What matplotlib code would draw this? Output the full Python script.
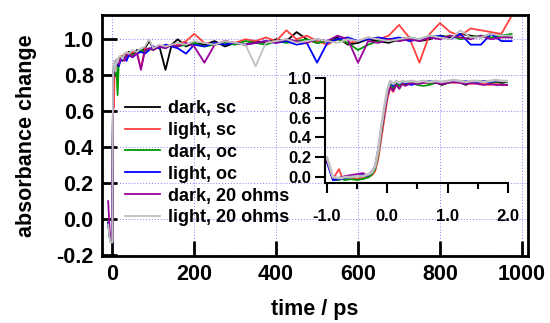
import numpy as np
import matplotlib
matplotlib.use("Agg")
import matplotlib.pyplot as plt
from matplotlib.ticker import MultipleLocator, FormatStrFormatter

plt.rcParams['font.family'] = ['Liberation Sans', 'DejaVu Sans']
plt.rcParams['font.weight'] = 'bold'

# main trace: time in ps
t_main = [-10, -5, 0, 2, 4, 6, 8, 10, 13, 16, 20, 25, 30, 35, 40, 50, 60, 70, 80, 90,
          100, 115, 130, 145, 160, 180, 200, 225, 250, 275, 300, 325, 350, 375, 400,
          425, 450, 475, 500, 525, 550, 575, 600, 625, 650, 675, 700, 725, 750, 775,
          800, 825, 850, 875, 900, 925, 950, 975]

dark_sc = [-0.02, -0.12, -0.13, 0.80, 0.84, 0.82, 0.86, 0.88, 0.85, 0.89,
           0.90, 0.88, 0.92, 0.90, 0.93, 0.92, 0.94, 0.93, 0.95, 0.99,
           0.95, 0.96, 0.83, 0.97, 1.00, 0.96, 0.98, 0.97, 0.99, 0.96,
           0.98, 0.97, 0.99, 0.98, 1.00, 0.99, 1.04, 1.00, 0.98, 0.99,
           1.01, 0.97, 0.98, 1.00, 0.99, 0.98, 1.00, 1.01, 0.99, 1.00,
           1.02, 1.01, 1.03, 1.02, 1.01, 1.03, 1.02, 1.01]
light_sc = [-0.03, -0.11, -0.12, 0.75, 0.62, 0.84, 0.86, 0.88, 0.89, 0.87,
            0.90, 0.91, 0.89, 0.92, 0.91, 0.93, 0.92, 0.84, 0.95, 0.94,
            0.96, 0.95, 0.97, 0.96, 0.97, 0.99, 1.03, 0.98, 0.97, 0.99,
            0.98, 1.00, 0.99, 1.01, 0.99, 1.05, 1.00, 1.02, 0.99, 0.97,
            1.00, 0.98, 0.99, 1.01, 1.00, 1.02, 1.08, 1.01, 0.87, 1.03,
            1.09, 1.04, 1.02, 1.06, 1.05, 1.04, 1.03, 1.13]
dark_oc = [-0.02, -0.12, -0.13, 0.78, 0.82, 0.80, 0.85, 0.87, 0.69, 0.88,
           0.89, 0.90, 0.91, 0.90, 0.92, 0.91, 0.93, 0.94, 0.93, 0.95,
           0.94, 0.96, 0.95, 0.97, 0.96, 0.97, 0.98, 0.96, 0.97, 0.98,
           0.97, 0.99, 0.98, 0.97, 0.99, 0.98, 0.99, 1.00, 0.98, 0.99,
           1.00, 0.98, 0.94, 0.97, 0.99, 1.00, 0.99, 1.01, 1.00, 1.02,
           1.01, 1.02, 1.00, 1.01, 1.02, 1.01, 1.02, 1.03]
light_oc = [-0.02, -0.12, -0.13, 0.82, 0.85, 0.83, 0.88, 0.86, 0.87, 0.85,
            0.88, 0.89, 0.90, 0.88, 0.91, 0.90, 0.92, 0.93, 0.92, 0.94,
            0.96, 0.95, 0.97, 0.96, 0.95, 0.92, 0.97, 0.96, 0.98, 0.97,
            0.98, 0.97, 0.98, 0.99, 0.98, 0.99, 0.97, 0.98, 0.87, 0.98,
            1.00, 1.01, 0.99, 1.00, 1.01, 1.00, 1.01, 0.99, 1.00, 1.01,
            1.02, 1.00, 1.03, 0.97, 0.97, 1.03, 0.99, 0.99]
dark_20 = [0.10, -0.12, -0.13, 0.76, 0.82, 0.85, 0.84, 0.87, 0.88, 0.86,
           0.89, 0.90, 0.88, 0.91, 0.92, 0.90, 0.93, 0.83, 0.94, 0.95,
           0.94, 0.96, 0.95, 0.97, 0.96, 0.98, 0.96, 0.87, 0.97, 0.99,
           0.98, 0.97, 0.98, 0.99, 0.98, 1.00, 0.99, 0.98, 1.00, 0.99,
           1.02, 1.00, 0.87, 0.99, 0.98, 1.00, 0.99, 1.00, 0.99, 1.01,
           1.00, 1.02, 1.01, 1.00, 1.02, 1.00, 1.01, 1.01]
light_20 = [-0.03, -0.13, -0.13, 0.85, 0.88, 0.86, 0.82, 0.89, 0.87, 0.90,
            0.91, 0.89, 0.92, 0.93, 0.92, 0.94, 0.93, 0.95, 0.96, 1.00,
            0.95, 0.97, 0.96, 0.97, 0.98, 0.97, 0.99, 0.98, 0.97, 0.99,
            0.98, 0.97, 0.85, 0.98, 0.99, 1.00, 0.98, 0.99, 1.00, 0.99,
            0.98, 1.00, 0.99, 1.01, 1.00, 0.99, 1.00, 1.01, 1.00, 1.02,
            1.01, 1.00, 1.05, 1.01, 1.01, 1.03, 1.02, 1.02]

# inset: early time
t_ins = [-1.0, -0.9, -0.8, -0.75, -0.7, -0.6, -0.5, -0.4, -0.35, -0.3,
         -0.25, -0.2, -0.15, -0.1, -0.05, 0.0, 0.05, 0.1, 0.15, 0.2,
         0.25, 0.3, 0.4, 0.5, 0.6, 0.7, 0.8, 0.9, 1.0, 1.1,
         1.2, 1.3, 1.4, 1.5, 1.6, 1.7, 1.8, 1.9, 2.0]

dark_sc_i = [0.17, -0.02, -0.01, 0.0, -0.01, 0.0, 0.01, 0.0, 0.01, 0.02,
             0.04, 0.09, 0.24, 0.45, 0.63, 0.81, 0.92, 0.88, 0.94, 0.90,
             0.95, 0.93, 0.96, 0.95, 0.96, 0.95, 0.96, 0.93, 0.95, 0.97,
             0.96, 0.93, 0.96, 0.95, 0.96, 0.95, 0.96, 0.95, 0.96]
light_sc_i = [0.16, -0.02, 0.08, 0.0, -0.01, -0.01, -0.02, -0.01, 0.0, 0.01,
              0.02, 0.06, 0.18, 0.38, 0.58, 0.78, 0.90, 0.86, 0.94, 0.91,
              0.95, 0.96, 0.94, 0.96, 0.95, 0.96, 0.95, 0.96, 0.97, 0.95,
              0.96, 0.95, 0.94, 0.95, 0.94, 0.93, 0.94, 0.93, 0.93]
dark_oc_i = [0.17, -0.03, -0.03, -0.02, -0.03, -0.02, -0.03, -0.02, -0.01, 0.0,
             0.03, 0.08, 0.22, 0.44, 0.64, 0.82, 0.93, 0.90, 0.95, 0.92,
             0.96, 0.94, 0.95, 0.93, 0.92, 0.93, 0.95, 0.96, 0.95, 0.96,
             0.97, 0.96, 0.95, 0.96, 0.97, 0.96, 0.96, 0.97, 0.96]
light_oc_i = [0.15, -0.03, -0.02, -0.02, -0.01, 0.0, 0.02, 0.03, 0.01, 0.02,
              0.05, 0.12, 0.28, 0.48, 0.66, 0.84, 0.96, 0.92, 0.97, 0.94,
              0.96, 0.95, 0.93, 0.95, 0.96, 0.97, 0.96, 0.95, 0.96, 0.97,
              0.96, 0.97, 0.95, 0.96, 0.97, 0.96, 0.97, 0.97, 0.97]
dark_20_i = [0.17, -0.01, -0.01, 0.0, 0.01, 0.02, 0.03, 0.04, 0.02, 0.03,
             0.06, 0.10, 0.25, 0.46, 0.64, 0.82, 0.91, 0.87, 0.93, 0.89,
             0.94, 0.92, 0.95, 0.94, 0.95, 0.96, 0.95, 0.94, 0.95, 0.96,
             0.95, 0.94, 0.95, 0.94, 0.93, 0.94, 0.93, 0.93, 0.93]
light_20_i = [0.20, 0.0, -0.01, -0.01, 0.0, 0.0, 0.01, 0.01, 0.02, 0.03,
              0.05, 0.11, 0.27, 0.50, 0.70, 0.88, 0.97, 0.94, 0.97, 0.95,
              0.97, 0.96, 0.97, 0.96, 0.97, 0.96, 0.97, 0.96, 0.97, 0.98,
              0.97, 0.96, 0.97, 0.97, 0.96, 0.97, 0.98, 0.97, 0.97]

labels = ["dark, sc", "light, sc", "dark, oc", "light, oc", "dark, 20 ohms", "light, 20 ohms"]
colors = ["#000000", "#ff4040", "#009900", "#0000ff", "#990099", "#c0c0c0"]
main_series = [dark_sc, light_sc, dark_oc, light_oc, dark_20, light_20]
ins_series = [dark_sc_i, light_sc_i, dark_oc_i, light_oc_i, dark_20_i, light_20_i]

fig = plt.figure(figsize=(5.5, 3.23), dpi=100)
ax = fig.add_axes([0.1855, 0.2074, 0.7745, 0.7462])

for y, c, lab in zip(main_series, colors, labels):
    ax.plot(t_main, y, color=c, lw=1.3, label=lab)

ax.set_xlim(-25, 1015)
ax.set_ylim(-0.205, 1.135)
ax.xaxis.set_major_locator(MultipleLocator(200))
ax.yaxis.set_major_locator(MultipleLocator(0.2))
ax.yaxis.set_major_formatter(FormatStrFormatter('%.1f'))
ax.grid(True, color='#8080ff', ls=(0, (1, 2)), lw=0.7)
ax.tick_params(direction='in', length=11, width=2, labelsize=15.5, pad=6)
for s in ax.spines.values():
    s.set_linewidth(2)
ax.set_xlabel("time / ps", fontsize=15.5, fontweight='bold', labelpad=10)
ax.set_ylabel("absorbance change", fontsize=15.5, fontweight='bold', labelpad=14)

leg = ax.legend(loc='upper left', bbox_to_anchor=(125 / 550, 1 - 100 / 323),
                bbox_transform=fig.transFigure, frameon=False, fontsize=13,
                handlelength=1.95, handletextpad=0.45, labelspacing=0.27,
                borderpad=0, borderaxespad=0)
for h in leg.get_lines():
    h.set_linewidth(1.3)

ins = fig.add_axes([0.591, 0.4334, 0.3326, 0.3251])
ins.patch.set_alpha(0)
for y, c in zip(ins_series, colors):
    ins.plot(t_ins, y, color=c, lw=1.9 if c == "#c0c0c0" else 1.3)
ins.set_xlim(-1.03, 2.0)
ins.set_ylim(-0.06, 1.0)
ins.spines['top'].set_visible(False)
ins.spines['right'].set_visible(False)
for s in ('left', 'bottom'):
    ins.spines[s].set_linewidth(1.5)
ins.xaxis.set_major_locator(MultipleLocator(1.0))
ins.xaxis.set_minor_locator(MultipleLocator(0.5))
ins.yaxis.set_major_locator(MultipleLocator(0.2))
ins.xaxis.set_major_formatter(FormatStrFormatter('%.1f'))
ins.yaxis.set_major_formatter(FormatStrFormatter('%.1f'))
ins.tick_params(which='major', direction='out', length=7, width=1.5, labelsize=12, pad=3)
ins.tick_params(which='minor', direction='out', length=4, width=1.5)
ins.tick_params(axis='x', which='major', pad=12)

fig.savefig("out.png", dpi=100)
